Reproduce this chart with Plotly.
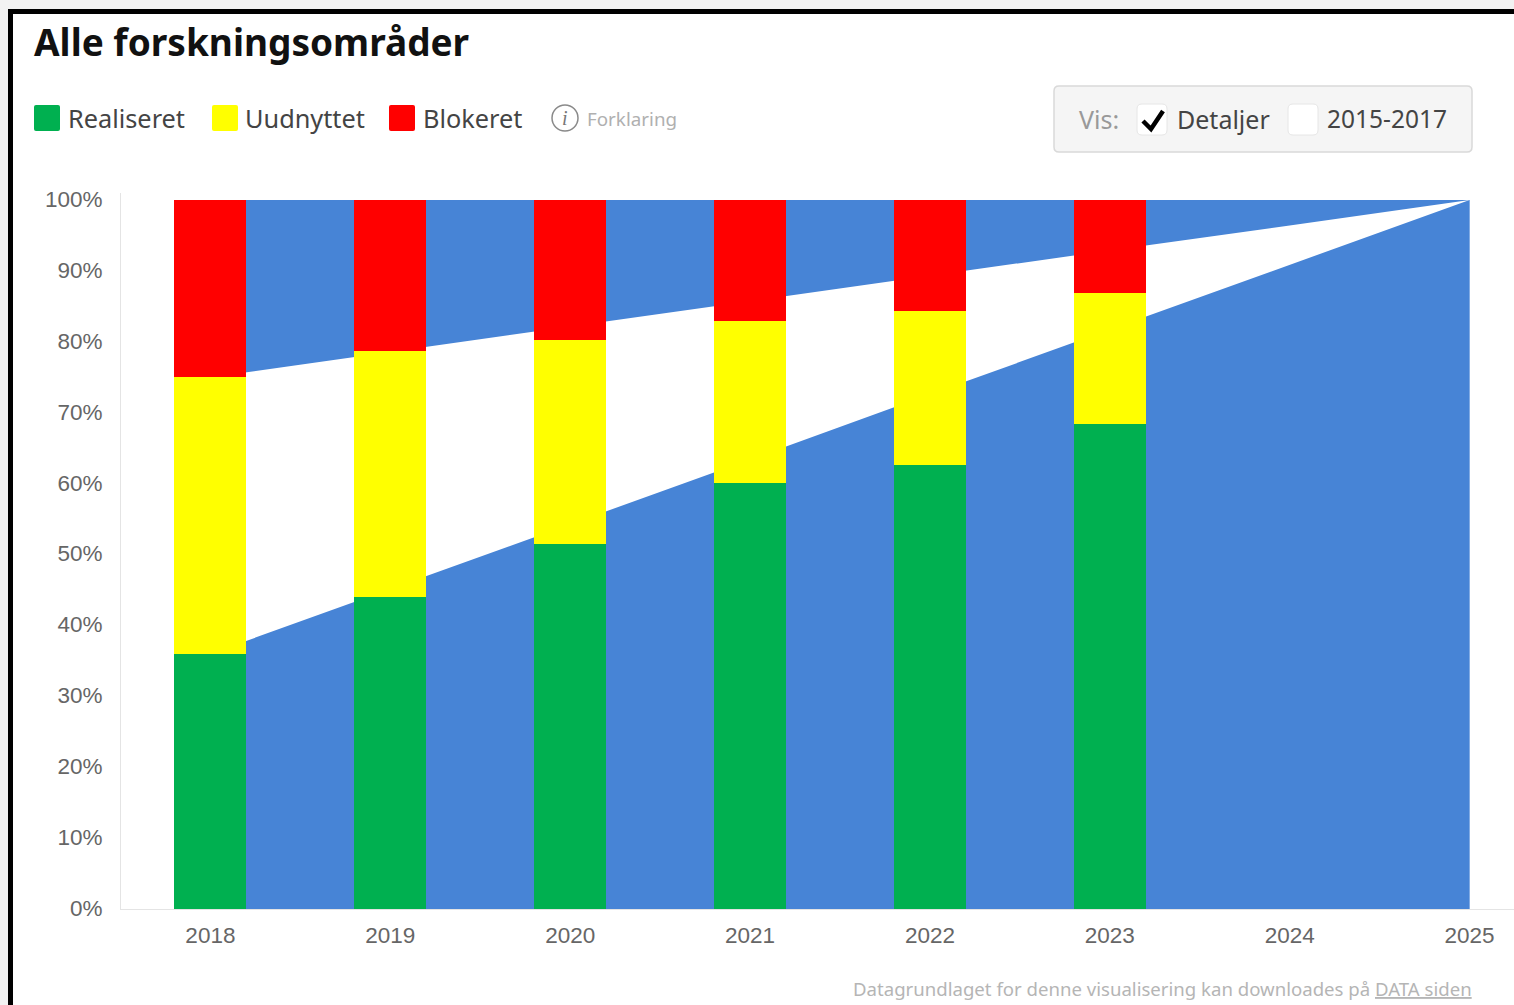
"""Stacked status bars over target bands, all research areas."""

import plotly.graph_objects as go

WIDTH = 1514
HEIGHT = 1005
PLOT_LEFT = 121
PLOT_RIGHT = 1514
PLOT_TOP = 193
PLOT_BOTTOM = 909

BLUE = "#4784d6"
GREEN = "#00b050"
YELLOW = "#ffff00"
RED = "#ff0000"
UI_FONT = "Noto Sans"
AXIS_FONT = "Liberation Sans"

years = [2018, 2019, 2020, 2021, 2022, 2023, 2024, 2025]
band_lower = [36, 45.1, 54.3, 63.4, 72.6, 81.7, 90.9, 100]
band_upper = [75, 78.6, 82.1, 85.7, 89.3, 92.9, 96.4, 100]
band_top = [100, 100, 100, 100, 100, 100, 100, 100]

bar_years = [2018, 2019, 2020, 2021, 2022, 2023]
realiseret = [36, 44, 51.5, 60.1, 62.6, 68.4]
uudnyttet = [39, 34.7, 28.8, 22.8, 21.7, 18.5]
blokeret = [25, 21.3, 19.7, 17.1, 15.7, 13.1]

y_ticks = [0, 10, 20, 30, 40, 50, 60, 70, 80, 90, 100]
y_tick_labels = ["0%", "10%", "20%", "30%", "40%", "50%", "60%", "70%", "80%", "90%", "100%"]

x_range = [2017.503, 2025.247]
y_range = [0, 101]


def px_x(x):
    return (x - PLOT_LEFT) / (PLOT_RIGHT - PLOT_LEFT)


def px_y(y):
    return (PLOT_BOTTOM - y) / (PLOT_BOTTOM - PLOT_TOP)


def box(x0, y0, x1, y1, fill, line=None, radius=0, width=1):
    """Rectangle in page pixels, optionally with rounded corners."""
    a0, a1 = px_x(x0), px_x(x1)
    b0, b1 = px_y(y0), px_y(y1)
    rx = radius / (PLOT_RIGHT - PLOT_LEFT)
    ry = radius / (PLOT_BOTTOM - PLOT_TOP)
    path = (
        f"M {a0 + rx} {b0} L {a1 - rx} {b0} Q {a1} {b0} {a1} {b0 - ry} "
        f"L {a1} {b1 + ry} Q {a1} {b1} {a1 - rx} {b1} "
        f"L {a0 + rx} {b1} Q {a0} {b1} {a0} {b1 + ry} "
        f"L {a0} {b0 - ry} Q {a0} {b0} {a0 + rx} {b0} Z"
    )
    return dict(
        type="path", xref="paper", yref="paper", path=path, fillcolor=fill,
        line=dict(color=line or fill, width=width if line else 0),
    )


def label(x, y, text, size, color, anchor="left", family=UI_FONT):
    return dict(
        xref="paper", yref="paper", x=px_x(x), y=px_y(y), text=text,
        showarrow=False, xanchor=anchor, yanchor="middle", borderpad=0,
        font=dict(family=family, size=size, color=color),
    )


fig = go.Figure()

# Bands first, each filled down to zero so the later one covers the earlier
for values, color in [(band_top, BLUE), (band_upper, "#ffffff"), (band_lower, BLUE)]:
    fig.add_trace(go.Scatter(
        x=years, y=values, mode="lines", fill="tozeroy", fillcolor=color,
        line=dict(width=0), hoverinfo="skip", showlegend=False,
    ))

# Bars sit on overlaying axes, otherwise the scatter fills would cover them
for name, values, color in [
    ("Realiseret", realiseret, GREEN),
    ("Uudnyttet", uudnyttet, YELLOW),
    ("Blokeret", blokeret, RED),
]:
    fig.add_trace(go.Bar(
        x=bar_years, y=values, name=name, width=0.4, marker=dict(color=color, line=dict(width=0)),
        xaxis="x2", yaxis="y2", showlegend=False,
    ))

shapes = [
    # Screenshot frame
    box(0, 0, WIDTH, 9, "#f2f2f2"),
    box(0, 0, 8, HEIGHT, "#f2f2f2"),
    box(8, 9, WIDTH, 14, "#000000"),
    box(8, 9, 13, HEIGHT, "#000000"),
    # Legend swatches
    box(34, 105, 60, 131, GREEN, radius=2),
    box(212, 105, 238, 131, YELLOW, radius=2),
    box(389, 105, 415, 131, RED, radius=2),
    # Info icon
    dict(type="circle", xref="paper", yref="paper", x0=px_x(552), x1=px_x(578),
         y0=px_y(131), y1=px_y(105), line=dict(color="#8a8a8a", width=1.5)),
    # Vis panel
    box(1054, 86, 1472, 152, "#f5f5f5", line="#d9d9d9", radius=5, width=1.5),
    box(1137, 104, 1167, 135, "#ffffff", line="#e6e6e6", radius=5),
    box(1288, 104, 1318, 135, "#ffffff", line="#e6e6e6", radius=5),
    dict(type="path", xref="paper", yref="paper",
         path=(f"M {px_x(1143)} {px_y(121)} L {px_x(1151)} {px_y(129)} "
               f"L {px_x(1163)} {px_y(111)}"),
         line=dict(color="#000000", width=4.5)),
]

annotations = [
    label(33, 42, "<b>Alle forskningsområder</b>", 37, "#111111"),
    label(67, 118, "Realiseret", 25.3, "#444444"),
    label(244, 118, "Uudnyttet", 25.3, "#444444"),
    label(422, 118, "Blokeret", 25.3, "#444444"),
    label(565, 118, "<i>i</i>", 20, "#777777", anchor="center", family="Liberation Serif"),
    label(586, 119, "Forklaring", 18.8, "#b0b0b0"),
    label(1078, 119, "Vis:", 25, "#999999"),
    label(1176, 119, "Detaljer", 25, "#444444"),
    label(1326, 119, "2015-2017", 24.5, "#444444"),
    label(1473, 988, "Datagrundlaget for denne visualisering kan downloades på <u>DATA siden</u>",
          18.6, "#b5b5b5", anchor="right"),
]

fig.update_layout(
    width=WIDTH,
    height=HEIGHT,
    paper_bgcolor="#ffffff",
    plot_bgcolor="#ffffff",
    barmode="stack",
    bargap=0,
    showlegend=False,
    margin=dict(l=PLOT_LEFT, r=WIDTH - PLOT_RIGHT, t=PLOT_TOP, b=HEIGHT - PLOT_BOTTOM, pad=0),
    xaxis=dict(
        range=x_range, tickvals=years, showgrid=False, zeroline=False,
        showline=True, linecolor="#e4e4e4", linewidth=1,
        ticklabelstandoff=6, tickfont=dict(family=AXIS_FONT, size=22.5, color="#666666"),
    ),
    yaxis=dict(
        range=y_range, tickvals=y_ticks, ticktext=y_tick_labels, showgrid=False, zeroline=False,
        showline=True, linecolor="#e4e4e4", linewidth=1,
        ticklabelstandoff=13, ticklabelshift=-1,
        tickfont=dict(family=AXIS_FONT, size=22.5, color="#666666"),
    ),
    xaxis2=dict(range=x_range, overlaying="x", visible=False),
    yaxis2=dict(range=y_range, overlaying="y", visible=False),
    shapes=shapes,
    annotations=annotations,
)

fig.write_html(
    "out.html",
    config=dict(displayModeBar=False),
    post_script="document.body.style.margin='0';document.documentElement.style.overflow='hidden';",
)
